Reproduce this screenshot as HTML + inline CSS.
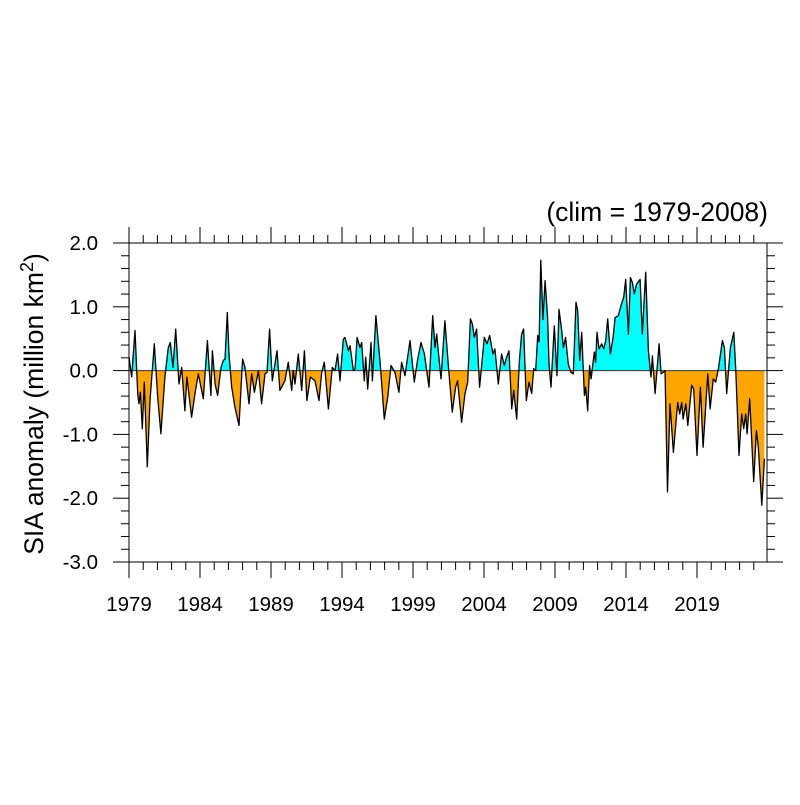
<!DOCTYPE html>
<html><head><meta charset="utf-8"><style>
body{margin:0;background:#fff;}
svg text{font-family:"Liberation Sans",sans-serif;fill:#000;}
</style></head><body>
<svg id="chart" width="800" height="800" xmlns="http://www.w3.org/2000/svg">
<defs>
<clipPath id="clipPos"><rect id="rPos" x="0" y="0" width="800" height="0"/></clipPath>
<clipPath id="clipNeg"><rect id="rNeg" x="0" y="0" width="800" height="800"/></clipPath>
</defs>
<text x="768" y="221" text-anchor="end" font-size="26.5">(clim = 1979-2008)</text>
<text transform="translate(43,404) rotate(-90)" text-anchor="middle" font-size="26.5">SIA anomaly (million km<tspan dy="-10" font-size="18">2</tspan><tspan dy="10">)</tspan></text>
<g id="plot"></g>
</svg>
<script>
const years=[1979.00,1979.19,1979.42,1979.61,1979.70,1979.80,1979.94,1980.08,1980.29,1980.48,1980.78,1981.02,1981.25,1981.53,1981.77,1981.91,1982.10,1982.29,1982.52,1982.71,1982.94,1983.08,1983.41,1983.65,1983.88,1984.23,1984.52,1984.77,1984.87,1985.06,1985.24,1985.48,1985.64,1985.76,1985.92,1986.04,1986.23,1986.46,1986.75,1987.00,1987.17,1987.45,1987.64,1987.83,1988.11,1988.34,1988.58,1988.72,1988.90,1989.09,1989.42,1989.63,1989.98,1990.22,1990.46,1990.57,1990.69,1990.92,1991.16,1991.35,1991.53,1991.77,1992.10,1992.38,1992.57,1992.75,1993.04,1993.32,1993.51,1993.69,1993.86,1994.09,
1994.21,1994.45,1994.56,1994.80,1994.92,1995.06,1995.27,1995.39,1995.57,1995.67,1995.81,1996.04,1996.14,1996.39,1996.68,1996.98,1997.22,1997.45,1997.73,1998.01,1998.20,1998.44,1998.79,1999.09,1999.33,1999.56,1999.80,2000.13,2000.39,2000.55,2000.67,2000.97,2001.25,2001.53,2001.77,2002.00,2002.14,2002.42,2002.66,2002.85,2003.04,2003.18,2003.32,2003.48,2003.69,2004.02,2004.21,2004.40,2004.63,2004.77,2005.01,2005.24,2005.43,2005.59,2005.76,2005.95,2006.09,2006.30,2006.49,2006.65,2006.79,2006.98,2007.17,2007.36,2007.50,2007.64,2007.78,2007.88,2008.00,2008.15,
2008.30,2008.48,2008.58,2008.72,2008.95,2009.14,2009.28,2009.47,2009.59,2009.75,2009.94,2010.13,2010.29,2010.48,2010.60,2010.74,2010.88,2011.07,2011.16,2011.30,2011.44,2011.54,2011.77,2011.86,2011.96,2012.10,2012.29,2012.43,2012.57,2012.71,2012.90,2013.09,2013.23,2013.46,2013.65,2013.84,2013.98,2014.17,2014.31,2014.45,2014.59,2014.73,2014.99,2015.15,2015.39,2015.58,2015.76,2015.86,2016.05,2016.33,2016.47,2016.61,2016.75,2016.92,2017.10,2017.34,2017.64,2017.78,2017.92,2018.02,2018.21,2018.35,2018.63,2018.77,2019.00,2019.24,2019.43,2019.76,2019.92,2020.15,2020.32,2020.51,2020.79,2020.93,2021.09,2021.35,2021.59,2021.73,2021.96,2022.15,2022.29,2022.43,2022.53,2022.71,2022.99,2023.18,2023.32,2023.56,2023.75];
const anomalies=[0.21,-0.10,0.63,-0.36,-0.52,-0.34,-0.91,-0.18,-1.51,-0.47,0.42,-0.42,-0.99,-0.10,0.36,0.44,0.05,0.65,-0.21,0.05,-0.63,-0.10,-0.73,-0.36,-0.05,-0.44,0.47,-0.39,0.31,-0.21,-0.39,0.05,0.16,0.18,0.91,0.26,-0.26,-0.57,-0.86,0.18,0.05,-0.52,-0.05,-0.34,0.00,-0.52,-0.05,-0.03,0.65,-0.16,0.31,-0.31,-0.16,0.13,-0.31,0.00,-0.21,0.26,-0.31,0.31,-0.47,-0.10,-0.16,-0.47,-0.03,0.13,-0.60,0.05,0.00,0.26,-0.16,0.49,
0.52,0.31,0.39,0.00,0.03,0.52,0.36,0.44,-0.16,0.21,-0.29,0.44,-0.16,0.86,0.13,-0.76,-0.42,0.08,-0.03,-0.34,0.13,-0.08,0.47,-0.18,0.18,0.44,0.26,-0.26,0.86,0.36,0.57,-0.13,0.78,-0.03,-0.65,-0.26,-0.16,-0.81,-0.36,-0.18,0.81,0.73,0.52,0.65,-0.26,0.52,0.42,0.55,0.26,0.34,-0.21,0.26,0.08,0.21,0.31,-0.60,-0.31,-0.76,0.16,0.57,0.65,-0.47,-0.18,-0.36,0.03,0.00,0.55,0.45,1.73,0.80,
1.41,0.83,0.10,-0.26,0.70,-0.08,0.96,0.63,0.36,0.52,0.10,-0.03,-0.05,1.07,0.94,0.16,0.60,-0.39,-0.26,-0.63,0.08,-0.13,0.29,0.13,0.60,0.34,0.42,0.34,0.47,0.81,0.26,0.52,0.83,0.86,1.02,1.15,1.43,0.57,1.46,1.38,1.20,1.35,1.43,0.57,1.54,0.31,-0.10,0.23,-0.36,0.42,-0.05,-0.03,0.00,-1.90,-0.52,-1.28,-0.50,-0.68,-0.50,-0.76,-0.52,-0.86,-0.23,-0.29,-1.33,-0.26,-1.20,-0.05,-0.60,-0.13,-0.18,0.03,0.47,0.36,-0.36,0.36,0.60,0.00,-1.33,-0.68,-0.91,-0.68,-0.99,-0.44,-1.74,-0.94,-1.20,-2.11,-1.38];
const yTicks=[2.0,1.0,0.0,-1.0,-2.0,-3.0];
const yTickLabels=["2.0","1.0","0.0","-1.0","-2.0","-3.0"];
const xTicks=[1979,1984,1989,1994,1999,2004,2009,2014,2019];

const L=129,R=767,T=243,B=562;
const X0=1979,X1=1979+(R-L)/14.2;
const sx=v=>L+(v-X0)/(X1-X0)*(R-L);
const sy=v=>T+(2-v)/5*(B-T);
const NS='http://www.w3.org/2000/svg';
const g=document.getElementById('plot');
function mk(tag,attrs,parent){const e=document.createElementNS(NS,tag);for(const k in attrs)e.setAttribute(k,attrs[k]);(parent||g).appendChild(e);return e;}

const zy=sy(0);
document.getElementById('rPos').setAttribute('height',zy);
document.getElementById('rNeg').setAttribute('y',zy);

let pts=years.map((y,i)=>sx(y).toFixed(1)+','+sy(anomalies[i]).toFixed(1));
const polyD='M'+sx(years[0]).toFixed(1)+','+zy+' L'+pts.join(' L')+' L'+sx(years[years.length-1]).toFixed(1)+','+zy+' Z';
const fp=mk('path',{d:polyD,fill:'#00ffff','clip-path':'url(#clipPos)'});


const fn=mk('path',{d:polyD,fill:'#ffa500','clip-path':'url(#clipNeg)'});


const zl=mk('line',{x1:L,x2:R,y1:zy,y2:zy,stroke:'#333','stroke-width':1});


const ln=mk('path',{d:'M'+pts.join(' L'),fill:'none',stroke:'#000','stroke-width':1.3,'stroke-linejoin':'round'});



const fr=mk('rect',{x:L,y:T,width:R-L,height:B-T,fill:'none',stroke:'#000','stroke-width':1});



for(let v=-3;v<=2.0001;v+=0.2){
  const major=Math.abs(v-Math.round(v))<1e-6;const len=major?16:8;const y=sy(v);
  const t1=mk('line',{x1:L-len,x2:L,y1:y,y2:y,stroke:'#000','stroke-width':1});
  
  
  const t2=mk('line',{x1:R,x2:R+len,y1:y,y2:y,stroke:'#000','stroke-width':1});
  
  
}
yTicks.forEach((v,i)=>{
  const t=mk('text',{x:98,y:sy(v)+7,'text-anchor':'end','font-size':20.5});
  t.textContent=yTickLabels[i];
  
  
});
for(let yr=1979;yr<=X1;yr++){
  const major=xTicks.includes(yr);const len=major?16:8;const x=sx(yr);
  const t1=mk('line',{x1:x,x2:x,y1:B,y2:B+len,stroke:'#000','stroke-width':1});
  
  
  const t2=mk('line',{x1:x,x2:x,y1:T-len,y2:T,stroke:'#000','stroke-width':1});
  
  
}
xTicks.forEach(v=>{
  const t=mk('text',{x:sx(v),y:611,'text-anchor':'middle','font-size':20.5});
  t.textContent=String(v);
  
  
});
</script>
</body></html>
